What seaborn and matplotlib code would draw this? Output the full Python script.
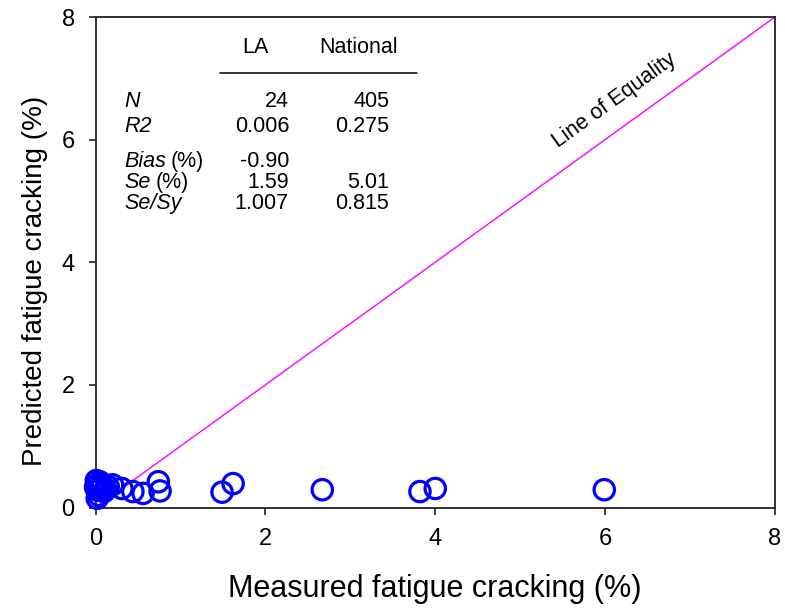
import matplotlib
matplotlib.use("Agg")
import matplotlib.pyplot as plt
from matplotlib.lines import Line2D
import seaborn as sns
import pandas as pd

# Measured vs predicted fatigue cracking (%), 24 LA sections
measured = [0.00, 0.01, 0.02, 0.03, 0.04, 0.05, 0.06, 0.08, 0.10, 0.12, 0.02, 0.15,
            0.20, 0.31, 0.44, 0.56, 0.74, 0.76,
            1.49, 1.62, 2.67, 3.82, 4.00, 5.99]
predicted = [0.33, 0.44, 0.38, 0.28, 0.20, 0.42, 0.31, 0.36, 0.26, 0.30, 0.15, 0.34,
             0.37, 0.31, 0.26, 0.23, 0.42, 0.27,
             0.25, 0.39, 0.29, 0.26, 0.31, 0.29]

equality = [0, 8]
ticks = [0, 2, 4, 6, 8]

# Goodness-of-fit summary
stat_names = ["N", "R2", "Bias", "Se", "Se/Sy"]
stat_units = ["", "", "(%)", "(%)", ""]
la_stats = ["24", "0.006", "-0.90", "1.59", "1.007"]
national_stats = ["405", "0.275", "", "5.01", "0.815"]
col_headers = ["LA", "National"]

sns.set_style("white")
plt.rcParams["font.family"] = ["Liberation Sans", "DejaVu Sans"]
plt.rcParams["text.color"] = "black"
plt.rcParams["axes.labelcolor"] = "black"
plt.rcParams["xtick.color"] = "black"
plt.rcParams["ytick.color"] = "black"

W, H = 785, 611
fig = plt.figure(figsize=(W / 100, H / 100), dpi=100)
ax = fig.add_axes([95.5 / W, 1 - 507.5 / H, 679.5 / W, 490.5 / H])

df = pd.DataFrame({"measured": measured, "predicted": predicted})

sns.lineplot(x=equality, y=equality, ax=ax, color="#FF00FF", lw=1.0,
             clip_on=False, zorder=2)
sns.scatterplot(data=df, x="measured", y="predicted", ax=ax, marker="o", s=215,
                facecolors="none", edgecolor="#0000FF", linewidth=2.3,
                clip_on=False, zorder=3)

ax.set_xlim(0, 8)
ax.set_ylim(0, 8)
ax.set_xticks(ticks)
ax.set_yticks(ticks)
ax.set_xticklabels([str(t) for t in ticks])
ax.set_yticklabels([str(t) for t in ticks])
ax.tick_params(axis="both", which="major", direction="out", length=5, width=1.2,
               color="#222222", labelcolor="black", labelsize=17, pad=10,
               bottom=True, left=True, top=False, right=False)
for sp in ax.spines.values():
    sp.set_visible(True)
    sp.set_color("#222222")
    sp.set_linewidth(1.3)

ax.set_xlabel("Measured fatigue cracking (%)", fontsize=22)
ax.set_ylabel("Predicted fatigue cracking (%)", fontsize=20)
ax.xaxis.set_label_coords(0.5, -0.135)
ax.yaxis.set_label_coords(-0.07, 0.462)


def fx(px):
    return px / W


def fy(py):
    return 1 - py / H


tsize = 15.5
fig.text(fx(255), fy(53), col_headers[0], fontsize=tsize, ha="center", va="baseline")
fig.text(fx(359), fy(53), col_headers[1], fontsize=tsize, ha="center", va="baseline")
fig.add_artist(Line2D([fx(220), fx(417)], [fy(73.3), fy(73.3)],
                      transform=fig.transFigure, color="black", lw=1.1))

renderer = fig.canvas.get_renderer()
baselines = [107, 132, 167, 188, 209]
for name, unit, la, nat, yb in zip(stat_names, stat_units, la_stats,
                                   national_stats, baselines):
    lab = fig.text(fx(124), fy(yb), name, fontsize=tsize, style="italic",
                   ha="left", va="baseline")
    if unit:
        x_end = lab.get_window_extent(renderer).x1
        fig.text((x_end + 5) / W, fy(yb), unit, fontsize=tsize,
                 ha="left", va="baseline")
    fig.text(fx(289), fy(yb), la, fontsize=tsize, ha="right", va="baseline")
    if nat:
        fig.text(fx(389), fy(yb), nat, fontsize=tsize, ha="right", va="baseline")

fig.text(fx(614), fy(101), "Line of Equality", fontsize=15.5, rotation=35.8,
         ha="center", va="center", rotation_mode="anchor")

fig.savefig("out.png", dpi=100)
